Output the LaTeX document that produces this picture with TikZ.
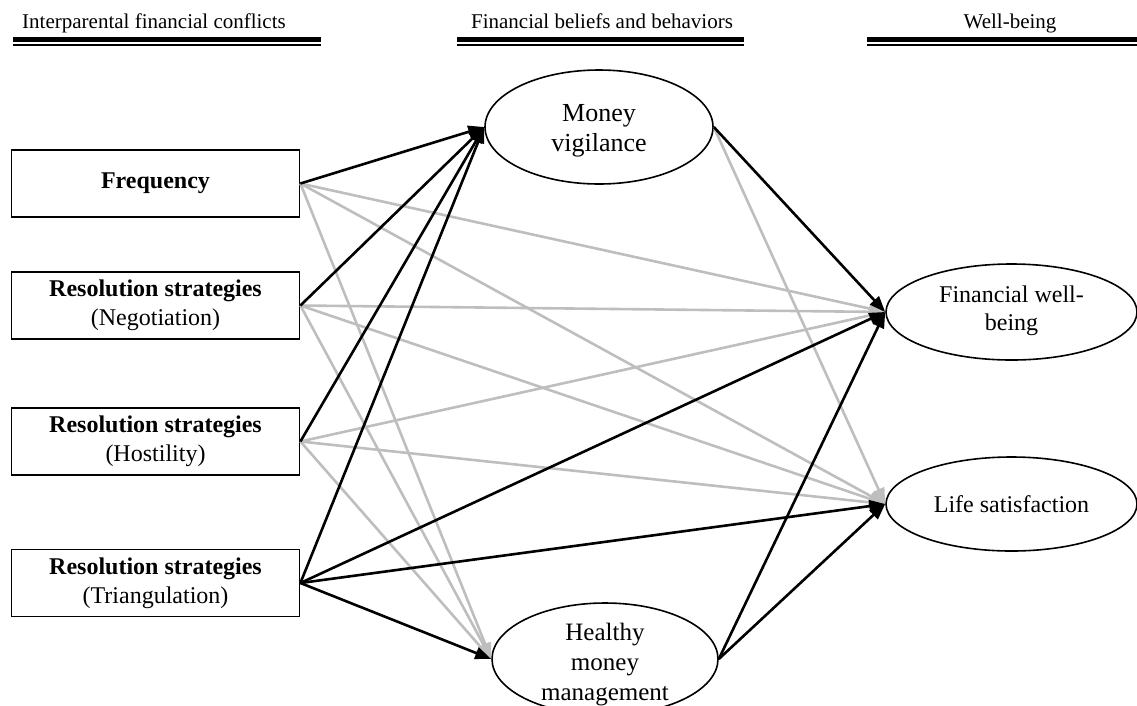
\documentclass[tikz,border=0pt]{standalone}
\usepackage{fontspec}
\setmainfont{Liberation Serif}
\usetikzlibrary{shapes.geometric,arrows.meta}
\definecolor{edgegray}{HTML}{BEBEBE}
\begin{document}
\begin{tikzpicture}[x=1pt,y=-1pt,
  hdr/.style={font=\fontsize{21}{24}\selectfont, anchor=base, inner sep=0pt},
  box/.style={draw, line width=1.8pt, minimum width=288pt, minimum height=67pt, inner sep=0pt, align=center, font=\fontsize{24}{29}\selectfont},
  ell/.style={draw, ellipse, line width=1.6pt, inner sep=0pt, align=center},
  lbl/.style={inner sep=0pt, align=center},
  blk/.style={line width=2.6pt, black, -{Triangle[length=16pt,width=12pt]}},
  gry/.style={line width=2.6pt, edgegray, -{Triangle[length=16pt,width=12pt]}},
  thickrule/.style={line width=5pt},
  thinrule/.style={line width=1.5pt}
]
\useasboundingbox (0,0) rectangle (1137,705);

% headers
\node[hdr] (h1) at (154,28) {Interparental financial conflicts};
\node[hdr] (h2) at (602,28) {Financial beliefs and behaviors};
\node[hdr] (h3) at (1010,28) {Well-being};
\draw[thickrule] (13,39.5) -- (321,39.5);
\draw[thinrule] (13,45) -- (321,45);
\draw[thickrule] (457,39.5) -- (744,39.5);
\draw[thinrule] (457,45) -- (744,45);
\draw[thickrule] (867,39.5) -- (1137,39.5);
\draw[thinrule] (867,45) -- (1137,45);

% predictor boxes
\node[box] (fr) at (155.5,183.5) {\bfseries Frequency};
\node[box] (ne) at (155.5,305.5) {{\bfseries Resolution strategies}\\(Negotiation)};
\node[box] (ho) at (155.5,441.5) {{\bfseries Resolution strategies}\\(Hostility)};
\node[box] (tr) at (155.5,583) {{\bfseries Resolution strategies}\\(Triangulation)};

% mediators
\node[ell, minimum width=228pt, minimum height=114pt] (mv) at (599,127) {};
\node[lbl, font=\fontsize{26}{30}\selectfont] (mvt) at (599,131) {Money\\vigilance};
\node[ell, minimum width=226pt, minimum height=112pt] (hm) at (605,659) {};
\node[lbl, font=\fontsize{25}{30}\selectfont] (hmt) at (605,665) {Healthy\\money\\management};

% outcomes
\node[ell, minimum width=251pt, minimum height=96pt] (fw) at (1011.5,312) {};
\node[lbl, font=\fontsize{24}{28}\selectfont] (fwt) at (1011.5,311) {Financial well-\\being};
\node[ell, minimum width=251pt, minimum height=94pt] (ls) at (1011.5,504) {};
\node[lbl, font=\fontsize{24}{28}\selectfont] (lst) at (1011.5,504) {Life satisfaction};

% gray (non-significant) paths
\draw[gry] (fr.east) -- (hm.west);
\draw[gry] (fr.east) -- (fw.west);
\draw[gry] (fr.east) -- (ls.west);
\draw[gry] (ne.east) -- (hm.west);
\draw[gry] (ne.east) -- (fw.west);
\draw[gry] (ne.east) -- (ls.west);
\draw[gry] (ho.east) -- (hm.west);
\draw[gry] (ho.east) -- (fw.west);
\draw[gry] (ho.east) -- (ls.west);
\draw[gry] (mv.east) -- (ls.west);

% black (significant) paths
\draw[blk] (fr.east) -- (mv.west);
\draw[blk] (ne.east) -- (mv.west);
\draw[blk] (ho.east) -- (mv.west);
\draw[blk] (tr.east) -- (mv.west);
\draw[blk] (tr.east) -- (hm.west);
\draw[blk] (tr.east) -- (fw.west);
\draw[blk] (tr.east) -- (ls.west);
\draw[blk] (mv.east) -- (fw.west);
\draw[blk] (hm.east) -- (fw.west);
\draw[blk] (hm.east) -- (ls.west);
\end{tikzpicture}
\end{document}
